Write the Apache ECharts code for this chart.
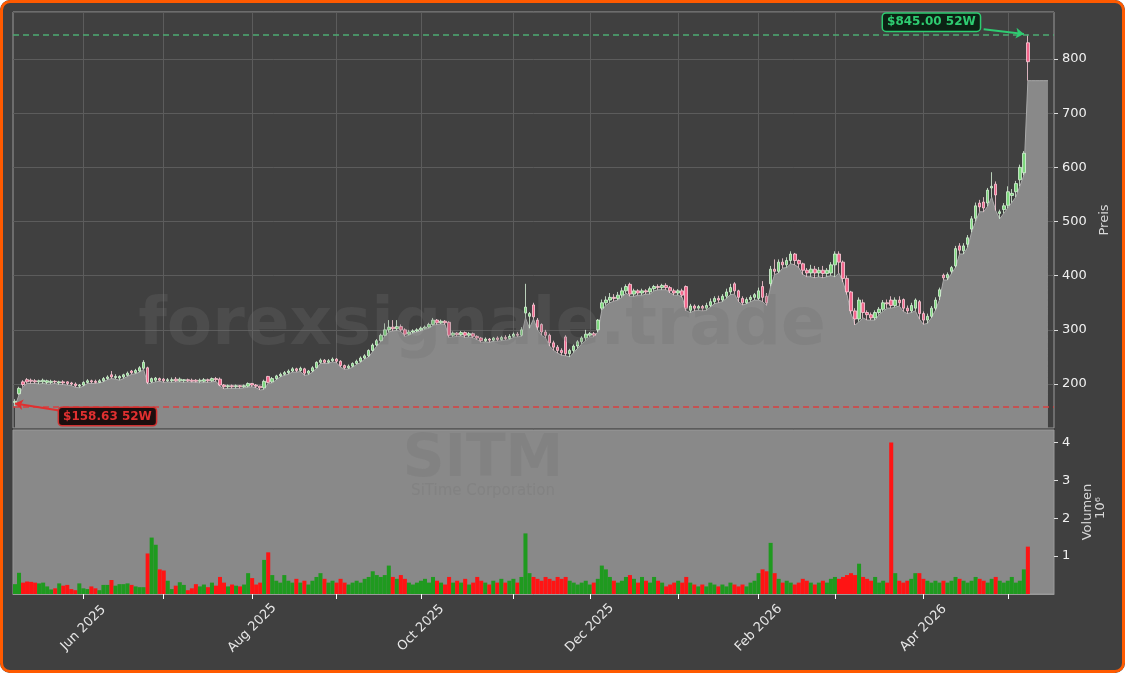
<!doctype html>
<html lang="de">
<head>
<meta charset="UTF-8">
<title>SITM</title>
<style>
  html, body { margin: 0; padding: 0; background: #ffffff; }
  #wrap { position: relative; width: 1125px; height: 673px; border-radius: 10px; overflow: hidden; }
  #main { position: absolute; left: 0; top: 0; width: 1125px; height: 673px; }
  #frame { position: absolute; left: 0; top: 0; width: 1125px; height: 673px; box-sizing: border-box;
           border: 3px solid #ff5a00; border-radius: 10px; pointer-events: none; }
</style>
</head>
<body>
<div id="wrap"><div id="main"></div><div id="frame"></div></div>
<script src="https://cdn.jsdelivr.net/npm/echarts@6/dist/echarts.min.js"></script>
<script>
// trading days, first one is 2025-05-07
const holidays = ['2025-05-26', '2025-06-19', '2025-07-04', '2025-09-01', '2025-11-27',
    '2025-12-25', '2026-01-01', '2026-01-19', '2026-02-16', '2026-04-03'];
const monthNames = ['Jan', 'Feb', 'Mar', 'Apr', 'May', 'Jun', 'Jul', 'Aug', 'Sep', 'Oct', 'Nov', 'Dec'];

// [open, close, low, high]
const candles = [
    [166,168,158.63,172],[182,192,180,195],[204,199,195,207],[208,204,201,211],[207,205,201,210],
    [206,204,201,209],[204,206,200,208],[204,207,201,210],[203,206,200,208],[203,205,200,208],
    [205,204,201,207],[202,204,199,206],[204,202,199,207],[204,201,198,205],[202,200,197,204],
    [200,197,194,203],[196,198,193,200],[198,203,196,205],[203,206,201,209],[206,204,201,208],
    [205,203,201,208],[203,206,202,209],[206,210,204,213],[210,213,208,216],[217,213,210,224],
    [212,214,209,218],[211,214,207,216],[213,217,210,219],[216,220,214,223],[224,221,218,226],
    [221,225,219,228],[224,230,222,233],[229,240,227,244],[230,203,200,232],[204,210,202,212],
    [207,211,204,213],[210,207,205,212],[209,206,203,211],[206,208,204,211],[206,208,203,212],
    [209,206,204,213],[206,209,204,212],[206,208,203,209],[208,206,204,210],[207,205,203,210],
    [207,205,203,209],[205,207,202,210],[205,208,203,211],[208,206,203,210],[206,210,204,212],
    [210,208,205,213],[209,198,196,212],[198,195,191,200],[195,197,192,199],[197,195,192,199],
    [195,197,192,199],[197,195,192,198],[195,197,193,199],[196,201,194,203],[201,198,195,202],
    [198,196,193,200],[196,193,189,197],[193,205,190,208],[214,203,201,215],[204,210,202,213],
    [210,215,208,217],[215,218,213,221],[218,221,216,224],[221,224,218,227],[224,228,222,231],
    [228,225,222,230],[225,229,223,232],[228,220,216,230],[220,224,217,226],[224,230,222,233],
    [230,240,229,242],[240,244,238,247],[244,240,238,246],[240,243,238,246],[243,246,241,249],
    [246,242,239,248],[242,234,231,244],[234,230,227,236],[230,233,228,236],[233,238,231,240],
    [238,242,236,245],[242,248,240,251],[248,252,246,255],[252,262,250,264],[262,272,260,275],
    [272,280,270,283],[280,290,278,293],[290,300,288,312],[300,305,296,318],[305,302,298,318],
    [302,306,299,318],[306,300,297,310],[300,292,288,303],[292,296,290,300],[296,298,294,301],
    [298,300,296,303],[300,303,298,306],[303,305,301,308],[305,310,303,313],[310,318,308,322],
    [318,313,310,320],[313,316,311,319],[316,313,310,318],[314,290,286,316],[290,294,287,297],
    [294,291,288,296],[291,295,289,298],[295,290,286,297],[290,293,287,296],[293,288,285,295],
    [288,285,282,290],[285,280,277,287],[280,283,278,286],[283,281,277,285],[281,285,279,287],
    [285,282,279,288],[282,286,280,289],[286,284,281,290],[284,288,282,292],[288,292,286,295],
    [292,290,287,296],[290,300,288,305],[331,342,322,385],[325,330,303,333],[346,324,320,350],
    [318,305,300,322],[310,296,290,312],[296,290,285,300],[290,276,270,293],[276,268,262,280],
    [268,262,257,272],[262,258,253,266],[287,256,252,290],[256,262,250,265],[262,270,258,273],
    [270,278,266,281],[278,285,274,288],[285,292,280,300],[290,293,287,296],[293,290,287,296],
    [300,318,296,320],[340,350,336,356],[350,355,345,362],[355,360,350,368],[360,358,353,366],
    [358,364,355,370],[364,372,360,378],[372,380,368,384],[384,366,362,387],[366,372,362,376],
    [372,368,364,375],[368,372,364,376],[372,370,366,375],[370,376,366,380],[376,380,372,383],
    [380,378,374,384],[378,382,374,385],[382,378,374,386],[378,372,368,381],[372,368,364,376],
    [368,372,364,375],[372,364,360,376],[380,340,335,382],[336,344,332,348],[344,340,335,347],
    [340,343,336,346],[343,340,335,346],[340,345,336,350],[345,352,342,358],[352,358,348,362],
    [358,355,350,363],[355,362,352,366],[362,370,358,376],[370,378,365,385],[385,372,366,388],
    [372,360,352,374],[358,350,346,362],[350,356,348,360],[356,360,352,364],[360,365,355,368],
    [358,372,355,378],[380,360,352,390],[362,350,345,368],[385,412,380,418],[412,408,402,430],
    [408,425,405,430],[425,420,414,432],[420,428,415,434],[428,440,422,445],[440,428,420,442],
    [428,422,415,430],[422,410,402,424],[410,405,398,414],[405,412,398,420],[412,405,396,418],
    [405,410,398,416],[410,404,396,418],[404,410,398,414],[405,420,400,425],[420,440,398,445],
    [440,425,405,445],[425,395,388,428],[395,370,365,400],[370,335,330,372],[335,320,309,340],
    [320,355,315,360],[350,332,322,356],[332,328,318,336],[328,322,318,332],[322,332,318,336],
    [332,338,328,342],[338,350,334,355],[350,348,340,356],[355,345,340,362],[345,355,342,360],
    [355,350,344,362],[356,340,334,358],[340,335,330,345],[335,345,332,350],[340,355,335,358],
    [352,330,320,355],[330,318,310,334],[318,325,312,330],[325,340,322,344],[340,355,336,360],
    [362,374,355,378],[401,396,392,404],[396,402,392,406],[408,415,404,418],[418,450,415,455],
    [455,447,440,460],[446,455,440,460],[458,470,452,475],[486,505,480,510],[506,529,500,535],
    [534,527,518,540],[536,525,518,545],[534,558,528,562],[562,565,545,591],[569,549,520,574],
    [515,518,505,522],[522,529,515,534],[530,555,525,565],[548,552,535,560],[555,570,545,575],
    [577,600,565,605],[590,626,585,630],[830,795,760,845]
];

// shaded price area keeps its last level for a few more days
const areaTail = [760, 760, 760, 760, 760];

// volume in millions
const volumes = [
    0.26,0.56,0.30,0.33,0.32,0.30,0.28,0.30,0.20,0.12,0.15,0.28,0.22,0.24,0.13,0.10,0.28,0.15,0.13,0.20,
    0.15,0.10,0.24,0.24,0.37,0.22,0.26,0.26,0.28,0.24,0.20,0.18,0.18,1.07,1.49,1.30,0.65,0.62,0.35,0.13,
    0.22,0.31,0.24,0.10,0.15,0.26,0.20,0.25,0.18,0.30,0.22,0.45,0.30,0.20,0.25,0.22,0.20,0.25,0.55,0.42,
    0.25,0.30,0.90,1.10,0.50,0.35,0.30,0.50,0.35,0.30,0.40,0.30,0.35,0.25,0.35,0.45,0.55,0.40,0.30,0.35,
    0.30,0.40,0.30,0.25,0.30,0.35,0.30,0.40,0.45,0.60,0.50,0.45,0.50,0.75,0.45,0.40,0.50,0.40,0.30,0.25,
    0.30,0.35,0.40,0.30,0.45,0.35,0.30,0.25,0.45,0.30,0.35,0.30,0.40,0.25,0.30,0.45,0.35,0.30,0.25,0.35,
    0.30,0.40,0.30,0.35,0.40,0.30,0.45,1.60,0.55,0.45,0.40,0.35,0.45,0.40,0.35,0.45,0.40,0.45,0.35,0.30,
    0.25,0.30,0.35,0.25,0.30,0.40,0.75,0.65,0.45,0.35,0.30,0.35,0.45,0.50,0.40,0.30,0.45,0.35,0.30,0.45,
    0.35,0.30,0.20,0.25,0.30,0.35,0.30,0.45,0.30,0.25,0.20,0.25,0.20,0.30,0.25,0.20,0.25,0.20,0.30,0.25,
    0.20,0.25,0.20,0.30,0.35,0.55,0.65,0.60,1.35,0.55,0.40,0.30,0.35,0.30,0.25,0.30,0.40,0.35,0.30,0.25,
    0.30,0.35,0.30,0.40,0.45,0.40,0.45,0.50,0.55,0.50,0.80,0.45,0.40,0.35,0.45,0.30,0.35,0.30,4.00,0.55,
    0.35,0.30,0.35,0.40,0.55,0.55,0.40,0.35,0.30,0.35,0.30,0.35,0.30,0.35,0.45,0.40,0.35,0.30,0.35,0.45,
    0.40,0.35,0.30,0.40,0.45,0.35,0.30,0.35,0.45,0.30,0.35,0.65,1.25
];

const high52 = 845.00;
const low52 = 158.63;

function buildDays(y, m, d, count) {
    const out = [];
    const t = new Date(Date.UTC(y, m - 1, d));
    while (out.length < count) {
        const s = t.toISOString().slice(0, 10);
        const wd = t.getUTCDay();
        if (wd !== 0 && wd !== 6 && holidays.indexOf(s) < 0) out.push(s);
        t.setUTCDate(t.getUTCDate() + 1);
    }
    return out;
}
const dates = buildDays(2025, 5, 7, candles.length + 6);

function monthStart(i) {
    return i > 0 && dates[i].slice(0, 7) !== dates[i - 1].slice(0, 7);
}
function labelMonth(i) {
    return monthStart(i) && (+dates[i].slice(5, 7)) % 2 === 0;
}

const lows = candles.map(c => c[2]).concat(areaTail);
const volData = volumes.map((v, i) => ({
    value: v,
    itemStyle: {color: candles[i][1] >= candles[i][0] ? '#1f9a1f' : '#ff1414'}
}));

const font = 'DejaVu Sans';

let myChart = echarts.init(document.getElementById('main'));
myChart.setOption({
    backgroundColor: '#404040',
    animation: false,
    grid: [
        {left: 13, right: 71, top: 12, height: 416, show: true, borderColor: '#9a9a9a', borderWidth: 1},
        {left: 13, right: 71, top: 430, height: 164, show: true, borderColor: '#9a9a9a', borderWidth: 1,
            backgroundColor: '#898989'}
    ],
    xAxis: [
        {
            type: 'category', gridIndex: 0, data: dates, boundaryGap: true,
            axisLine: {show: false}, axisTick: {show: false}, axisLabel: {show: false},
            splitLine: {show: true, interval: (i) => monthStart(i), alignWithLabel: true,
                lineStyle: {color: '#5c5c5c', width: 1}}
        },
        {
            type: 'category', gridIndex: 1, data: dates, boundaryGap: true,
            axisLine: {show: true, lineStyle: {color: '#9a9a9a'}},
            axisTick: {show: true, alignWithLabel: true, interval: (i) => monthStart(i), length: 5,
                lineStyle: {color: '#ffffff'}},
            axisLabel: {
                show: true, interval: (i) => labelMonth(i), rotate: 45, align: 'center',
                verticalAlign: 'middle', margin: 34, color: '#e6e6e6', fontFamily: font, fontSize: 13,
                formatter: (v) => monthNames[+v.slice(5, 7) - 1] + ' ' + v.slice(0, 4)
            },
            splitLine: {show: false}
        }
    ],
    yAxis: [
        {
            type: 'value', gridIndex: 0, position: 'right', min: 118.8, max: 886.8,
            minInterval: 100, maxInterval: 100,
            axisLine: {show: false},
            axisTick: {show: true, length: 4, lineStyle: {color: '#dddddd'}},
            axisLabel: {color: '#f0f0f0', fontFamily: font, fontSize: 13, margin: 8,
                showMinLabel: false, showMaxLabel: false},
            splitLine: {show: true, lineStyle: {color: '#5c5c5c', width: 1}},
            name: 'Preis', nameLocation: 'middle', nameRotate: 90, nameGap: 41,
            nameTextStyle: {color: '#d8d8d8', fontFamily: font, fontSize: 13}
        },
        {
            type: 'value', gridIndex: 1, position: 'right', min: 0, max: 4.33,
            minInterval: 1, maxInterval: 1,
            axisLine: {show: false},
            axisTick: {show: true, length: 4, lineStyle: {color: '#dddddd'}},
            axisLabel: {color: '#f0f0f0', fontFamily: font, fontSize: 13, margin: 8,
                showMinLabel: false, showMaxLabel: false},
            splitLine: {show: false},
            name: 'Volumen', nameLocation: 'middle', nameRotate: 90, nameGap: 21,
            nameTextStyle: {color: '#d8d8d8', fontFamily: font, fontSize: 13}
        }
    ],
    graphic: [
        {type: 'text', x: 482, y: 327, z: 100, silent: true,
            style: {text: 'forexsignale.trade', font: 'bold 66px "DejaVu Sans"', fill: 'rgba(110,110,110,0.25)',
                textAlign: 'center', textVerticalAlign: 'middle'}},
        {type: 'text', x: 483, y: 461, z: 100, silent: true,
            style: {text: 'SITM', font: 'bold 58px "DejaVu Sans"', fill: 'rgba(110,110,110,0.25)',
                textAlign: 'center', textVerticalAlign: 'middle'}},
        {type: 'text', x: 483, y: 491, z: 100, silent: true,
            style: {text: 'SiTime Corporation', font: '15px "DejaVu Sans"', fill: 'rgba(110,110,110,0.25)',
                textAlign: 'center', textVerticalAlign: 'middle'}},
        {type: 'text', x: 1101, y: 508, rotation: Math.PI / 2, silent: true,
            style: {text: '10⁶', font: '13px "DejaVu Sans"', fill: '#d8d8d8',
                textAlign: 'center', textVerticalAlign: 'middle'}}
    ],
    series: [
        {
            name: 'area', type: 'line', xAxisIndex: 0, yAxisIndex: 0, data: lows,
            symbol: 'none', z: 1,
            lineStyle: {color: '#aaaaaa', width: 1},
            areaStyle: {color: '#898989', opacity: 1, origin: 'start'},
            markLine: {
                silent: true, symbol: ['none', 'none'], label: {show: false}, animation: false,
                data: [
                    {yAxis: high52, lineStyle: {color: '#4caa72', type: [6, 4], width: 1.5}},
                    {yAxis: low52, lineStyle: {color: '#d84040', type: [6, 4], width: 1.5}}
                ]
            }
        },
        {
            name: 'SITM', type: 'candlestick', xAxisIndex: 0, yAxisIndex: 0, data: candles,
            barWidth: 3, z: 3,
            itemStyle: {
                color: '#7ed87e', color0: '#f2668c',
                borderColor: '#d9f5d9', borderColor0: '#ffd0dc', borderWidth: 0.8
            },
            markLine: {
                silent: true, animation: false, label: {show: false},
                data: [
                    [{coord: [240.8, 855], symbol: 'none'},
                        {coord: [251.3, 846], symbol: 'arrow', symbolSize: 8,
                            lineStyle: {color: '#2ecc71', width: 2, type: 'solid'}}],
                    [{coord: [11.2, 151], symbol: 'none'},
                        {coord: [0.3, 164], symbol: 'arrow', symbolSize: 8,
                            lineStyle: {color: '#e03030', width: 2, type: 'solid'}}]
                ]
            },
            markPoint: {
                silent: true, animation: false, symbol: 'rect', symbolSize: 1,
                itemStyle: {color: 'rgba(0,0,0,0)'},
                data: [
                    {coord: [228.4, 868], label: {show: true, position: 'inside',
                        formatter: '$' + high52.toFixed(2) + ' 52W',
                        color: '#2ecc71', fontWeight: 'bold', fontFamily: font, fontSize: 12,
                        backgroundColor: '#0c2214', borderColor: '#2ecc71', borderWidth: 1.5,
                        borderRadius: 3, padding: [3, 4, 2, 4]}},
                    {coord: [23.4, 140], label: {show: true, position: 'inside',
                        formatter: '$' + low52.toFixed(2) + ' 52W',
                        color: '#e03030', fontWeight: 'bold', fontFamily: font, fontSize: 12,
                        backgroundColor: '#1c0e0e', borderColor: '#d03030', borderWidth: 1.5,
                        borderRadius: 3, padding: [3, 4, 2, 4]}}
                ]
            }
        },
        {
            name: 'Volumen', type: 'bar', xAxisIndex: 1, yAxisIndex: 1, data: volData,
            barCategoryGap: '0%', barWidth: '100%', z: 2
        }
    ]
});
</script>
</body>
</html>
